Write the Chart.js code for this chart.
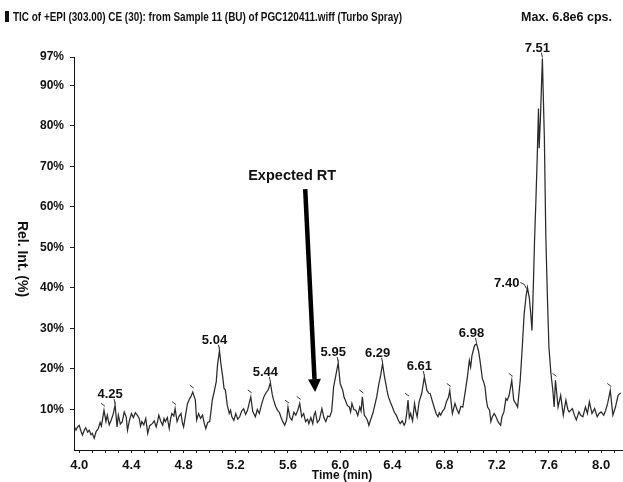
<!DOCTYPE html>
<html>
<head>
<meta charset="utf-8">
<script src="https://cdn.jsdelivr.net/npm/chart.js@4.4.1/dist/chart.umd.min.js"></script>
<style>
  html, body { margin: 0; padding: 0; background: #fff; }
  #wrap { width: 623px; height: 482px; }
</style>
</head>
<body>
<div id="wrap"><canvas id="c" width="623" height="482" style="width:623px;height:482px"></canvas></div>
<script>
// ---- Data ----
const times = [
  3.96, 3.975, 3.99, 4.00, 4.015, 4.025, 4.04, 4.05, 4.065, 4.077,
  4.09, 4.10, 4.115, 4.13, 4.145, 4.16, 4.17, 4.18, 4.19, 4.205,
  4.215, 4.23, 4.245, 4.26, 4.275, 4.29, 4.30, 4.315, 4.33, 4.345,
  4.36, 4.37, 4.385, 4.40, 4.415, 4.43, 4.445, 4.46, 4.47, 4.48,
  4.495, 4.51, 4.525, 4.54, 4.56, 4.575, 4.59, 4.60, 4.61, 4.625,
  4.64, 4.65, 4.66, 4.675, 4.69, 4.70, 4.71, 4.725, 4.735, 4.75,
  4.765, 4.78, 4.79, 4.80, 4.815, 4.83, 4.845, 4.855, 4.87, 4.89,
  4.90, 4.915, 4.93, 4.945, 4.96, 4.97, 4.985, 5.00, 5.01, 5.02,
  5.035, 5.05, 5.06, 5.075, 5.085, 5.10, 5.11, 5.12, 5.135, 5.15,
  5.16, 5.17, 5.185, 5.20, 5.215, 5.23, 5.245, 5.26, 5.275, 5.29,
  5.30, 5.315, 5.33, 5.35, 5.365, 5.38, 5.40, 5.415, 5.43, 5.45,
  5.465, 5.48, 5.49, 5.505, 5.52, 5.535, 5.545, 5.56, 5.575, 5.59,
  5.60, 5.615, 5.63, 5.645, 5.66, 5.675, 5.69, 5.705, 5.72, 5.735,
  5.75, 5.76, 5.775, 5.79, 5.80, 5.81, 5.825, 5.84, 5.85, 5.86,
  5.875, 5.89, 5.905, 5.92, 5.935, 5.95, 5.97, 5.985, 6.00, 6.02,
  6.03, 6.04, 6.055, 6.07, 6.08, 6.09, 6.105, 6.12, 6.135, 6.15,
  6.16, 6.17, 6.185, 6.20, 6.21, 6.22, 6.235, 6.25, 6.265, 6.28,
  6.295, 6.31, 6.325, 6.34, 6.35, 6.36, 6.37, 6.385, 6.40, 6.415,
  6.43, 6.445, 6.46, 6.475, 6.49, 6.50, 6.51, 6.52, 6.53, 6.54,
  6.555, 6.57, 6.58, 6.59, 6.605, 6.625, 6.645, 6.665, 6.68, 6.69,
  6.705, 6.72, 6.735, 6.75, 6.76, 6.77, 6.785, 6.80, 6.815, 6.83,
  6.84, 6.86, 6.88, 6.895, 6.91, 6.925, 6.94, 6.96, 6.975, 6.99,
  7.00, 7.01, 7.03, 7.045, 7.06, 7.07, 7.09, 7.10, 7.11, 7.12,
  7.13, 7.145, 7.155, 7.165, 7.18, 7.19, 7.21, 7.22, 7.23, 7.24,
  7.255, 7.27, 7.28, 7.295, 7.315, 7.33, 7.345, 7.36, 7.38, 7.395,
  7.41, 7.425, 7.435, 7.45, 7.462, 7.47, 7.48, 7.49, 7.50, 7.51,
  7.52, 7.525, 7.535, 7.545, 7.55, 7.555, 7.565, 7.576, 7.589, 7.60,
  7.615, 7.63, 7.64, 7.65, 7.67, 7.69, 7.71, 7.73, 7.745, 7.755,
  7.78, 7.795, 7.81, 7.83, 7.845, 7.86, 7.88, 7.895, 7.91, 7.93,
  7.95, 7.97, 7.985, 8.00, 8.02, 8.035, 8.05, 8.07, 8.09, 8.11,
  8.13, 8.15
];
const relInt = [
  6.0, 4.9, 5.8, 6.1, 4.5, 3.7, 5.0, 5.5, 4.4, 4.9,
  3.8, 4.1, 2.9, 4.6, 5.2, 6.8, 5.9, 7.8, 9.8, 7.0,
  8.6, 6.2, 7.4, 8.8, 11.1, 5.7, 8.6, 6.4, 7.0, 9.4,
  8.2, 4.9, 7.3, 9.0, 8.0, 9.2, 8.6, 7.8, 5.9, 7.0,
  6.2, 7.8, 4.1, 6.0, 6.5, 7.2, 5.7, 7.0, 8.6, 7.1,
  6.1, 7.8, 7.0, 8.0, 5.3, 7.6, 9.0, 8.4, 10.2, 7.0,
  8.3, 9.0, 6.8, 5.7, 8.6, 11.5, 12.6, 13.1, 14.3, 12.3,
  7.4, 9.0, 7.8, 8.6, 6.4, 5.3, 6.8, 7.0, 9.6, 12.3,
  14.5, 16.8, 21.0, 24.5, 21.5, 18.0, 15.2, 14.8, 11.0, 9.0,
  9.8, 8.2, 7.3, 9.0, 7.6, 8.2, 9.6, 10.2, 8.8, 9.8,
  11.2, 13.1, 9.5, 8.2, 10.0, 9.0, 11.5, 13.1, 14.0, 15.0,
  16.6, 13.6, 12.3, 10.8, 9.8, 9.2, 8.2, 7.0, 6.1, 7.5,
  10.6, 8.0, 7.4, 9.3, 8.6, 9.8, 11.5, 8.2, 9.0, 7.0,
  7.6, 6.5, 8.0, 6.5, 8.6, 9.4, 6.8, 7.4, 8.8, 10.2,
  8.0, 7.0, 8.4, 8.2, 9.6, 15.6, 19.0, 21.5, 16.4, 14.7,
  13.0, 12.3, 11.0, 10.6, 9.4, 11.5, 10.0, 9.8, 8.5, 10.6,
  9.6, 13.1, 8.6, 7.9, 7.2, 6.1, 7.6, 9.0, 11.0, 13.1,
  16.0, 18.4, 21.3, 18.0, 16.4, 14.5, 13.1, 11.8, 10.6, 9.3,
  8.6, 7.4, 6.5, 7.2, 6.1, 6.8, 9.0, 12.3, 8.0, 9.0,
  7.2, 11.5, 9.5, 8.2, 11.9, 14.0, 18.0, 14.7, 14.0, 13.9,
  12.2, 10.6, 9.0, 8.2, 9.2, 8.6, 9.6, 10.2, 12.0, 13.0,
  14.7, 9.0, 11.5, 10.0, 9.0, 10.8, 10.6, 14.7, 18.0, 22.1,
  20.5, 23.3, 25.8, 26.2, 24.5, 22.5, 17.6, 16.8, 15.6, 12.5,
  10.6, 9.8, 7.0, 8.1, 9.0, 8.5, 7.0, 6.5, 6.1, 8.2,
  9.4, 12.7, 12.3, 13.5, 17.2, 12.3, 11.5, 10.6, 17.2, 25.0,
  33.6, 38.0, 40.1, 37.5, 33.0, 29.5, 40.0, 52.0, 61.4, 72.0,
  84.3, 74.5, 82.0, 92.0, 96.6, 89.6, 77.0, 53.0, 36.9, 25.4,
  19.0, 14.7, 10.6, 17.2, 10.6, 13.5, 8.6, 12.3, 10.0, 9.4,
  10.2, 8.6, 7.4, 9.4, 8.5, 8.2, 10.6, 9.0, 11.9, 9.0,
  10.2, 8.2, 9.0, 9.4, 8.6, 9.8, 11.5, 14.7, 8.6, 10.6,
  13.5, 14.1
];

// Axis ticks
const xTickLabels = ['4.0', '4.4', '4.8', '5.2', '5.6', '6.0', '6.4', '6.8', '7.2', '7.6', '8.0'];
const yTickValues = [10, 20, 30, 40, 50, 60, 70, 80, 90, 97];

// Peak annotations (label text, apex time)
const peakLabels = ['4.25', '5.04', '5.44', '5.95', '6.29', '6.61', '6.98', '7.40', '7.51'];
const peakTimes  = [4.275, 5.075, 5.465, 5.985, 6.325, 6.645, 7.045, 7.435, 7.55];
// small unlabeled peak marks (apex times)
const markTimes = [4.19, 4.735, 4.87, 5.315, 5.60, 5.69, 6.17, 6.52, 6.84, 7.315, 7.65, 8.07];

// Texts
const titleText = 'TIC of +EPI (303.00) CE (30): from Sample 11 (BU) of PGC120411.wiff (Turbo Spray)';
const maxText = 'Max. 6.8e6 cps.';
const xTitle = 'Time (min)';
const yTitle = 'Rel. Int. (%)';
const noteText = 'Expected RT';
// annotation anchor in data units: note text, arrow start, arrow tip
const noteAt = [5.632, 67.6];
const arrowFrom = [5.732, 64.4];
const arrowTo = [5.808, 14.3];

const FONT = '"Liberation Sans", Arial, Helvetica, sans-serif';

function fitText(ctx, str, x, y, w, font) {
  ctx.font = font;
  ctx.textAlign = 'left';
  ctx.textBaseline = 'middle';
  const m = ctx.measureText(str).width;
  ctx.save();
  ctx.translate(x, y);
  ctx.scale(w / m, 1);
  ctx.fillText(str, 0, 0);
  ctx.restore();
}

const annot = {
  id: 'annot',
  afterDraw(chart) {
    const { ctx, chartArea, scales: { x, y } } = chart;
    ctx.save();
    ctx.fillStyle = '#111';
    ctx.strokeStyle = '#111';
    // header
    ctx.fillRect(5, 11, 4, 11);
    fitText(ctx, titleText, 13, 17, 389, 'bold 13px ' + FONT);
    fitText(ctx, maxText, 521, 17, 91, 'bold 13px ' + FONT);

    // x title
    ctx.font = 'bold 12px ' + FONT;
    ctx.textAlign = 'center';
    ctx.textBaseline = 'middle';
    ctx.fillText(xTitle, (chartArea.left + chartArea.right) / 2 - 6, 476);

    // y title (rotated clockwise)
    ctx.save();
    ctx.translate(22, 259);
    ctx.rotate(Math.PI / 2);
    ctx.font = 'bold 14px ' + FONT;
    ctx.textAlign = 'center';
    ctx.textBaseline = 'middle';
    ctx.fillText(yTitle, 0, 0);
    ctx.restore();

    // Expected RT note
    const nx = x.getPixelForValue(noteAt[0]), ny = y.getPixelForValue(noteAt[1]);
    ctx.save();
    ctx.font = 'bold 14px ' + FONT;
    const nw = ctx.measureText(noteText).width;
    ctx.translate(nx - 44, ny);
    ctx.scale(88 / nw, 1);
    ctx.textAlign = 'left';
    ctx.textBaseline = 'middle';
    ctx.fillText(noteText, 0, 0);
    ctx.restore();

    // arrow
    const x1 = x.getPixelForValue(arrowFrom[0]), y1 = y.getPixelForValue(arrowFrom[1]);
    const x2 = x.getPixelForValue(arrowTo[0]), y2 = y.getPixelForValue(arrowTo[1]);
    const ang = Math.atan2(y2 - y1, x2 - x1);
    const hl = 13, hw = 6.5;
    const bx = x2 - hl * Math.cos(ang), by = y2 - hl * Math.sin(ang);
    ctx.fillStyle = '#000';
    ctx.strokeStyle = '#000';
    ctx.lineWidth = 4.5;
    ctx.beginPath(); ctx.moveTo(x1, y1); ctx.lineTo(bx, by); ctx.stroke();
    ctx.beginPath();
    ctx.moveTo(x2, y2);
    ctx.lineTo(bx + hw * Math.sin(ang), by - hw * Math.cos(ang));
    ctx.lineTo(bx - hw * Math.sin(ang), by + hw * Math.cos(ang));
    ctx.closePath(); ctx.fill();

    // peak labels
    ctx.fillStyle = '#111';
    ctx.strokeStyle = '#333';
    ctx.lineWidth = 1;
    ctx.font = 'bold 13px ' + FONT;
    peakLabels.forEach((txt, i) => {
      const idx = times.indexOf(peakTimes[i]);
      const px = x.getPixelForValue(times[idx]);
      const py = y.getPixelForValue(relInt[idx]);
      if (txt === '7.40') {
        ctx.textAlign = 'right';
        ctx.textBaseline = 'middle';
        ctx.fillText(txt, px - 8, py - 4);
        ctx.beginPath(); ctx.moveTo(px - 7, py - 5); ctx.lineTo(px - 3, py - 3); ctx.lineTo(px - 1, py + 1); ctx.stroke();
      } else {
        ctx.textAlign = 'center';
        ctx.textBaseline = 'bottom';
        ctx.fillText(txt, px - 5, py - 4);
        ctx.beginPath(); ctx.moveTo(px - 1, py - 6); ctx.lineTo(px, py - 1); ctx.stroke();
      }
    });
    // small peak marks
    markTimes.forEach(t => {
      const idx = times.indexOf(t);
      const px = x.getPixelForValue(times[idx]);
      const py = y.getPixelForValue(relInt[idx]);
      ctx.beginPath(); ctx.moveTo(px - 3, py - 7); ctx.lineTo(px + 1, py - 4); ctx.stroke();
    });
    ctx.restore();
  }
};

Chart.defaults.font.family = FONT;
Chart.defaults.font.weight = 'bold';
Chart.defaults.color = '#111';

new Chart(document.getElementById('c'), {
  type: 'line',
  data: {
    datasets: [{
      data: times.map((t, i) => ({ x: t, y: relInt[i] })),
      borderColor: '#2a2a2a',
      borderWidth: 1.25,
      pointRadius: 0,
      tension: 0,
      fill: false
    }]
  },
  options: {
    responsive: false,
    animation: false,
    devicePixelRatio: 1,
    layout: { padding: { left: 0, right: 1, top: 57, bottom: 0 } },
    plugins: { legend: { display: false }, tooltip: { enabled: false }, title: { display: false } },
    scales: {
      x: {
        type: 'linear',
        min: 3.96,
        max: 8.16,
        afterBuildTicks: ax => {
          const t = [];
          for (let k = 40; k <= 81; k++) t.push({ value: k / 10 });
          ax.ticks = t;
        },
        afterFit: s => { s.height = 32; },
        ticks: {
          autoSkip: false,
          maxRotation: 0,
          padding: 5,
          font: { size: 13, weight: 'bold' },
          color: '#111',
          callback: v => {
            const s = (Math.round(v * 10) / 10).toFixed(1);
            return xTickLabels.includes(s) ? s : '';
          }
        },
        grid: { display: true, drawOnChartArea: false, drawTicks: true, tickLength: 3, color: '#222' },
        border: { display: true, color: '#111', width: 1 },
        title: { display: false }
      },
      y: {
        min: 0,
        max: 97,
        afterBuildTicks: ax => { ax.ticks = yTickValues.map(v => ({ value: v })); },
        afterFit: s => { s.width = 74; },
        ticks: {
          autoSkip: false,
          padding: 6,
          font: { size: 12, weight: 'bold' },
          color: '#111',
          callback: v => v + '%'
        },
        grid: { display: true, drawOnChartArea: false, drawTicks: true, tickLength: 4, color: '#222' },
        border: { display: true, color: '#111', width: 1 }
      }
    }
  },
  plugins: [annot]
});
</script>
</body>
</html>
